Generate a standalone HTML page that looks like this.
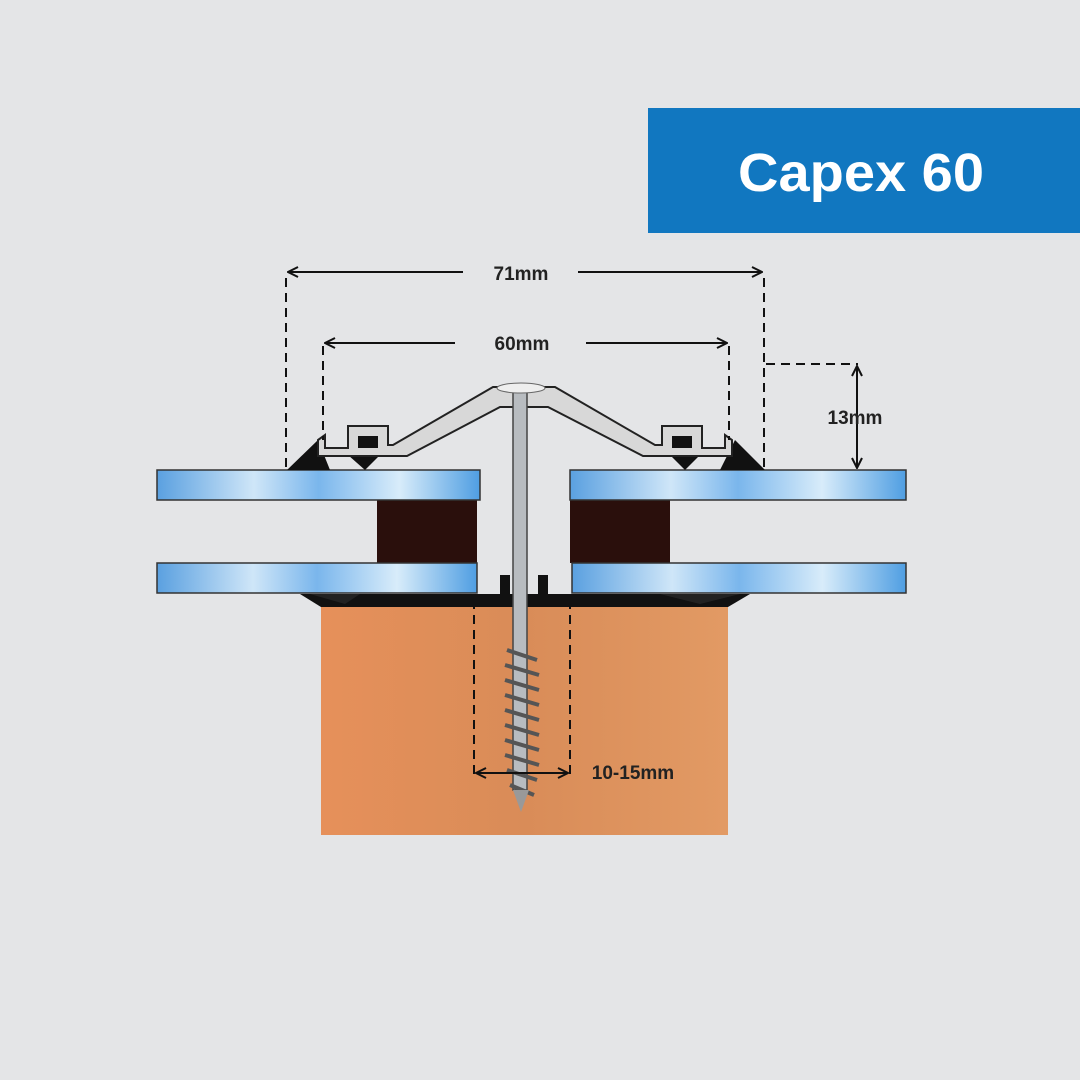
<!DOCTYPE html><html><head><style>body{margin:0;background:#e4e5e7}svg{display:block}</style></head><body>
<svg width="1080" height="1080" viewBox="0 0 1080 1080" xmlns="http://www.w3.org/2000/svg" font-family="Liberation Sans, sans-serif">
<defs>
<linearGradient id="g" x1="0" x2="1"><stop offset="0" stop-color="#5aa0e0"/><stop offset=".3" stop-color="#cfe6f8"/><stop offset=".5" stop-color="#7ab6ec"/><stop offset=".75" stop-color="#d8ecfa"/><stop offset="1" stop-color="#4f9ee2"/></linearGradient>
<linearGradient id="w" x1="0" x2="1"><stop offset="0" stop-color="#e6905a"/><stop offset=".5" stop-color="#d98c58"/><stop offset="1" stop-color="#e29a64"/></linearGradient>
<marker id="a" markerWidth="12" markerHeight="12" refX="11" refY="6" orient="auto-start-reverse" markerUnits="userSpaceOnUse"><path d="M1 1L11 6L1 11" fill="none" stroke="#111" stroke-width="2"/></marker>
</defs>
<rect width="1080" height="1080" fill="#e4e5e7"/>
<rect x="648" y="108" width="432" height="125" fill="#1177c0"/>
<text x="861" y="191" fill="#fff" font-size="54" font-weight="bold" text-anchor="middle" textLength="246" lengthAdjust="spacingAndGlyphs">Capex 60</text>
<rect x="321" y="603" width="407" height="232" fill="url(#w)"/>
<path d="M300 594H750L728 607H321Z" fill="#111"/>
<path d="M310 594L345 604L360 594Z M660 594L700 604L740 594Z" fill="#222"/>
<rect x="377" y="500" width="100" height="63" fill="#2a0f0c"/>
<rect x="570" y="500" width="100" height="63" fill="#2a0f0c"/>
<g stroke="#333" stroke-width="1.5" fill="url(#g)">
<rect x="157" y="470" width="323" height="30"/><rect x="570" y="470" width="336" height="30"/>
<rect x="157" y="563" width="320" height="30"/><rect x="572" y="563" width="334" height="30"/>
</g>
<path d="M287 470L318 440L330 470Z M765 470L735 440L720 470Z" fill="#111"/>
<path d="M348 455L365 470L380 455Z M670 455L685 470L700 455Z" fill="#111"/>
<g fill="#d8d8d8" stroke="#222" stroke-width="2">
<path d="M318 440L325 435V448H348V426H388V445H393L493 387H555L655 445H662V426H702V448H725V435L732 440V456H643L548 407H500L407 456H318Z"/>
</g>
<rect x="358" y="436" width="20" height="12" fill="#111"/><rect x="672" y="436" width="20" height="12" fill="#111"/>
<rect x="500" y="575" width="10" height="25" fill="#111"/><rect x="538" y="575" width="10" height="25" fill="#111"/>
<rect x="513" y="390" width="14" height="400" fill="#b8bcc0" stroke="#444" stroke-width="1.5"/>
<ellipse cx="521" cy="388" rx="24" ry="5" fill="#eee" stroke="#666"/>
<g stroke="#555" stroke-width="4">
<path d="M507 650L537 660M505 665L539 675M505 680L539 690M505 695L539 705M505 710L539 720M505 725L539 735M505 740L539 750M505 755L539 765M507 770L537 780M510 785L534 795"/>
</g>
<path d="M513 790L521 812L529 790Z" fill="#999"/>
<g stroke="#111" stroke-width="2" fill="none">
<g stroke-dasharray="9 6"><path d="M286 278V470M764 278V470M323 346V440M729 346V440M766 364H858M474 600V778M570 600V778"/></g>
<path d="M288 272H463" marker-start="url(#a)"/>
<path d="M578 272H762" marker-end="url(#a)"/>
<path d="M325 343H455" marker-start="url(#a)"/>
<path d="M586 343H727" marker-end="url(#a)"/>
<path d="M857 366V468" marker-start="url(#a)" marker-end="url(#a)"/>
<path d="M476 773H568" marker-start="url(#a)" marker-end="url(#a)"/>
</g>
<g font-size="19" fill="#222" text-anchor="middle" font-weight="bold">
<text x="521" y="280">71mm</text><text x="522" y="350">60mm</text><text x="855" y="424">13mm</text><text x="633" y="779">10-15mm</text>
</g>
</svg></body></html>
